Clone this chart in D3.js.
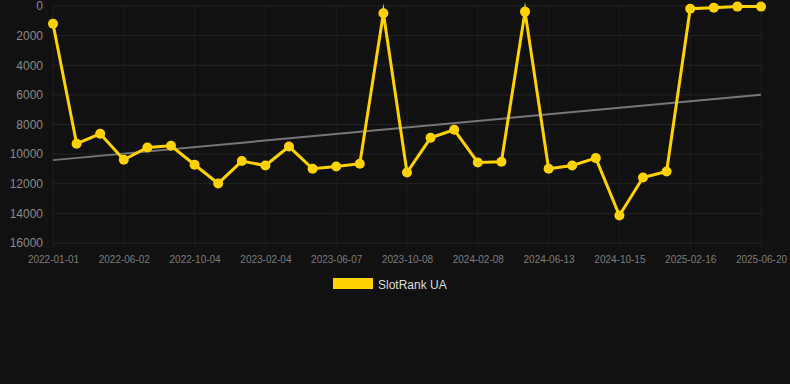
<!DOCTYPE html>
<html><head><meta charset="utf-8">
<script src="https://cdn.jsdelivr.net/npm/d3@7"></script>
<style>
html,body{margin:0;padding:0;background:#111111;}
svg{display:block;font-family:"Liberation Sans",Arial,sans-serif;}
</style></head>
<body><svg id="c" width="790" height="384"></svg>
<script>
const dates = ["2022-01-01","2022-02-20","2022-04-11","2022-06-02","2022-07-13","2022-08-23","2022-10-04","2022-11-14","2022-12-25","2023-02-04","2023-03-18","2023-04-27","2023-06-07","2023-07-18","2023-08-28","2023-10-08","2023-11-18","2023-12-29","2024-02-08","2024-03-20","2024-05-02","2024-06-13","2024-07-24","2024-09-03","2024-10-15","2024-11-25","2025-01-05","2025-02-16","2025-03-29","2025-05-09","2025-06-20"];
const rankValues = [1200,9300,8630,10380,9550,9440,10720,11980,10470,10770,9490,10990,10830,10650,490,11240,8900,8360,10570,10520,380,10990,10770,10270,14140,11580,11170,180,110,40,40];
const yTicks = [0,2000,4000,6000,8000,10000,12000,14000,16000];
const seriesName = "SlotRank UA";

const svg = d3.select("#c");
const m = {l:53, r:761, t:6, b:243};
const x = d3.scalePoint().domain(dates).range([m.l, m.r]);
const y = d3.scaleLinear().domain([0,16000]).range([m.t, m.b]);
const shownTicks = dates.filter((d,i)=>i%3===0);

// grid
svg.append("g").selectAll("line").data(yTicks).join("line")
  .attr("x1", m.l).attr("x2", m.r).attr("y1", d=>y(d)).attr("y2", d=>y(d))
  .attr("stroke", "#242424").attr("stroke-width",1);
svg.append("g").selectAll("line").data(shownTicks).join("line")
  .attr("x1", d=>x(d)).attr("x2", d=>x(d)).attr("y1", m.t).attr("y2", m.b)
  .attr("stroke", "#1e1e1e").attr("stroke-width",1);

// axes
const yAxis = svg.append("g").attr("transform", `translate(${m.l},0)`)
  .call(d3.axisLeft(y).tickValues(yTicks).tickFormat(d3.format("d")).tickSize(0).tickPadding(10));
yAxis.select(".domain").remove();
yAxis.selectAll("text").attr("fill","#8a8a8a").style("font-size","12px");

const xAxis = svg.append("g").attr("transform", `translate(0,${m.b})`)
  .call(d3.axisBottom(x).tickValues(shownTicks).tickSize(4).tickPadding(9));
xAxis.select(".domain").remove();
xAxis.selectAll("line").attr("stroke","#1e1e1e");
xAxis.selectAll("text").attr("fill","#7d7d7d").style("font-size","10px");

// trend (linear regression)
const n = rankValues.length;
const xs = d3.range(n);
const mx = d3.mean(xs), my = d3.mean(rankValues);
const slope = d3.sum(xs, i => (i-mx)*(rankValues[i]-my)) / d3.sum(xs, i => (i-mx)*(i-mx));
const icpt = my - slope*mx;
svg.append("line")
  .attr("x1", x(dates[0])).attr("y1", y(icpt))
  .attr("x2", x(dates[n-1])).attr("y2", y(icpt + slope*(n-1)))
  .attr("stroke","#777").attr("stroke-width",2);

// series line
const line = d3.line().x((d,i)=>x(dates[i])).y(d=>y(d));
svg.append("path").datum(rankValues).attr("d", line)
  .attr("fill","none").attr("stroke","#FFD200").attr("stroke-width",3)
  .attr("stroke-linejoin","miter").attr("stroke-miterlimit",10);
svg.append("g").selectAll("circle").data(rankValues).join("circle")
  .attr("cx",(d,i)=>x(dates[i])).attr("cy",d=>y(d)).attr("r",5)
  .attr("fill","#FFD200");

// legend
const lg = svg.append("g");
lg.append("rect").attr("x",333).attr("y",278).attr("width",40).attr("height",11).attr("fill","#FFD200");
lg.append("text").attr("x",378).attr("y",289).attr("fill","#dddddd").style("font-size","12px").text(seriesName);
</script></body></html>
